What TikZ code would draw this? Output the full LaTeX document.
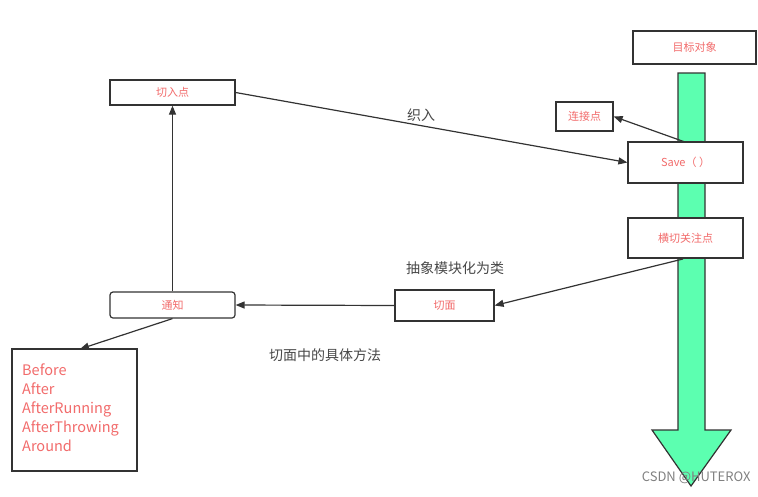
\documentclass[tikz,border=0pt]{standalone}
\usepackage{fontspec}
\setmainfont{Noto Sans CJK SC}
\usetikzlibrary{arrows.meta}
\definecolor{txtred}{HTML}{F26B6B}
\definecolor{bargreen}{HTML}{5CFFB0}
\definecolor{linegray}{HTML}{333333}
\begin{document}
\begin{tikzpicture}[x=1pt,y=-1pt,
  bx/.style={draw=linegray,line width=1.2pt,fill=white,text=txtred,font=\fontsize{11}{13}\selectfont,inner sep=0pt},
  conn/.style={draw=linegray,line width=1.2pt,-{Triangle[length=9pt,width=7pt]}},
  lbl/.style={text=linegray!90,font=\fontsize{14}{16}\selectfont}]
\useasboundingbox (0,0) rectangle (758,496);
\draw[linegray,line width=1.2pt,fill=bargreen] (678,73) -- (705,73) -- (705,430) -- (731,430) -- (691,486) -- (652,430) -- (678,430) -- cycle;
\node[bx,minimum width=123pt,minimum height=33pt] (target) at (694.5,47.5) {目标对象};
\node[bx,minimum width=57pt,minimum height=29pt] (join) at (584.5,116.5) {连接点};
\node[bx,minimum width=115pt,minimum height=41pt] (save) at (685.5,162.5) {Save（ ）};
\node[bx,minimum width=115pt,minimum height=40pt] (cross) at (685.5,238) {横切关注点};
\node[bx,minimum width=125pt,minimum height=25pt] (cut) at (172.5,92.5) {切入点};
\node[bx,rounded corners=3pt,minimum width=125pt,minimum height=26pt] (advice) at (172.5,305) {通知};
\node[bx,minimum width=99pt,minimum height=31pt] (aspect) at (444.5,305.5) {切面};
\node[bx,minimum width=125pt,minimum height=122pt] (types) at (74.5,410) {};
\node[text=txtred,font=\fontsize{14.5}{19}\selectfont,align=left,anchor=north west,inner sep=0pt] (typelist) at (22,364) {Before\\After\\AfterRunning\\AfterThrowing\\Around};
\draw[conn] (cut.east) -- (save.west);
\draw[conn] (685,142) -- (join.east);
\draw[conn] (683,259) -- (aspect.east);
\draw[conn] (aspect.west) -- (advice.east);
\draw[conn] (advice.north) -- (cut.south);
\draw[conn] (advice.south) -- (80,349);
\node[lbl] (l1) at (421,115) {织入};
\node[lbl] (l2) at (455,268) {抽象模块化为类};
\node[lbl] (l3) at (325,355) {切面中的具体方法};
\node[text=gray,font=\fontsize{13}{15}\selectfont,anchor=east] (wm) at (754,478) {CSDN @HUTEROX};
\end{tikzpicture}
\end{document}
